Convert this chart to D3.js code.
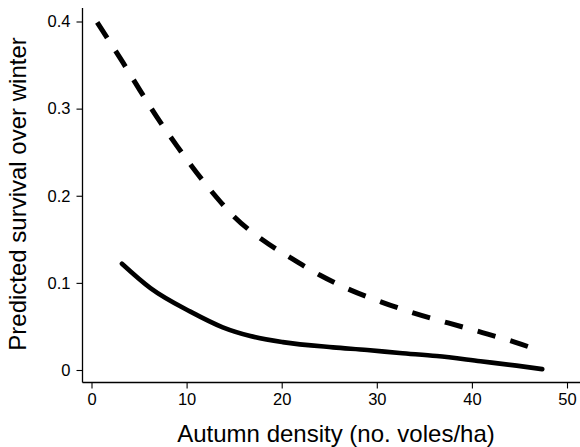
<!DOCTYPE html>
<html>
<head>
<meta charset="utf-8">
<script src="https://cdn.jsdelivr.net/npm/d3@7"></script>
<style>
  html, body { margin: 0; padding: 0; background: #fff; }
  svg { display: block; }
  text { font-family: "Liberation Sans", Arial, Helvetica, sans-serif; fill: #000; }
</style>
</head>
<body>
<svg id="chart" width="580" height="447"></svg>
<script>
// Data
const xTicks = [0, 10, 20, 30, 40, 50];
const yTicks = [0, 0.1, 0.2, 0.3, 0.4];
const yTickLabels = ["0", "0.1", "0.2", "0.3", "0.4"];

const dashedX = [0.6, 3.3, 5.1, 6.9, 9.0, 10.4, 12.7, 15.0, 17.9, 20.9, 24.0, 27.2, 30.5, 34.0, 37.5, 41.1, 44.5, 47.2];
const dashedY = [0.399, 0.353, 0.321, 0.290, 0.257, 0.236, 0.204, 0.176, 0.150, 0.129, 0.109, 0.092, 0.078, 0.065, 0.054, 0.043, 0.032, 0.022];

const solidX = [3.2, 6.2, 10.4, 13.8, 16.7, 20.1, 25.4, 29.0, 32.4, 36.3, 40.9, 44.7, 47.4];
const solidY = [0.122, 0.094, 0.067, 0.049, 0.039, 0.032, 0.026, 0.023, 0.0195, 0.016, 0.010, 0.005, 0.001];

const svg = d3.select("#chart");

const x = d3.scaleLinear().domain([0, 50]).range([91.5, 567]);
const y = d3.scaleLinear().domain([0, 0.4]).range([370, 21.5]);

const axisX = 82.5, axisY = 382.5;

// axis lines
svg.append("line").attr("x1", axisX).attr("x2", axisX).attr("y1", 8).attr("y2", axisY)
  .attr("stroke", "#000").attr("stroke-width", 1.3);
svg.append("line").attr("x1", axisX).attr("x2", 580).attr("y1", axisY).attr("y2", axisY)
  .attr("stroke", "#000").attr("stroke-width", 1.3);

// y axis ticks
const yAxis = d3.axisLeft(y).tickValues(yTicks).tickSize(6).tickPadding(6)
  .tickFormat((d, i) => yTickLabels[i]);
const gy = svg.append("g").attr("transform", `translate(${axisX},0)`).call(yAxis);
gy.select(".domain").remove();
gy.selectAll("text").style("font-size", "16.5px").style("font-family", '"Liberation Sans", Arial, sans-serif');
gy.selectAll("line").attr("stroke-width", 1.1);

// x axis ticks
const xAxis = d3.axisBottom(x).tickValues(xTicks).tickSize(6).tickPadding(5)
  .tickFormat(d3.format("d"));
const gx = svg.append("g").attr("transform", `translate(0,${axisY})`).call(xAxis);
gx.select(".domain").remove();
gx.selectAll("text").style("font-size", "16.5px").style("font-family", '"Liberation Sans", Arial, sans-serif');
gx.selectAll("line").attr("stroke-width", 1.1);

// curves
const line = d3.line().x(d => x(d[0])).y(d => y(d[1])).curve(d3.curveMonotoneX);

svg.append("path")
  .datum(dashedX.map((v, i) => [v, dashedY[i]]))
  .attr("d", line)
  .attr("fill", "none").attr("stroke", "#000").attr("stroke-width", 5)
  .attr("stroke-dasharray", "18.5,15.5");

svg.append("path")
  .datum(solidX.map((v, i) => [v, solidY[i]]))
  .attr("d", line)
  .attr("fill", "none").attr("stroke", "#000").attr("stroke-width", 4.6)
  .attr("stroke-linecap", "round");

// axis titles
svg.append("text")
  .attr("x", 336).attr("y", 442)
  .attr("text-anchor", "middle")
  .style("font-size", "24px")
  .text("Autumn density (no. voles/ha)");

svg.append("text")
  .attr("transform", "translate(26,194) rotate(-90)")
  .attr("text-anchor", "middle")
  .style("font-size", "24px")
  .text("Predicted survival over winter");
</script>
</body>
</html>
